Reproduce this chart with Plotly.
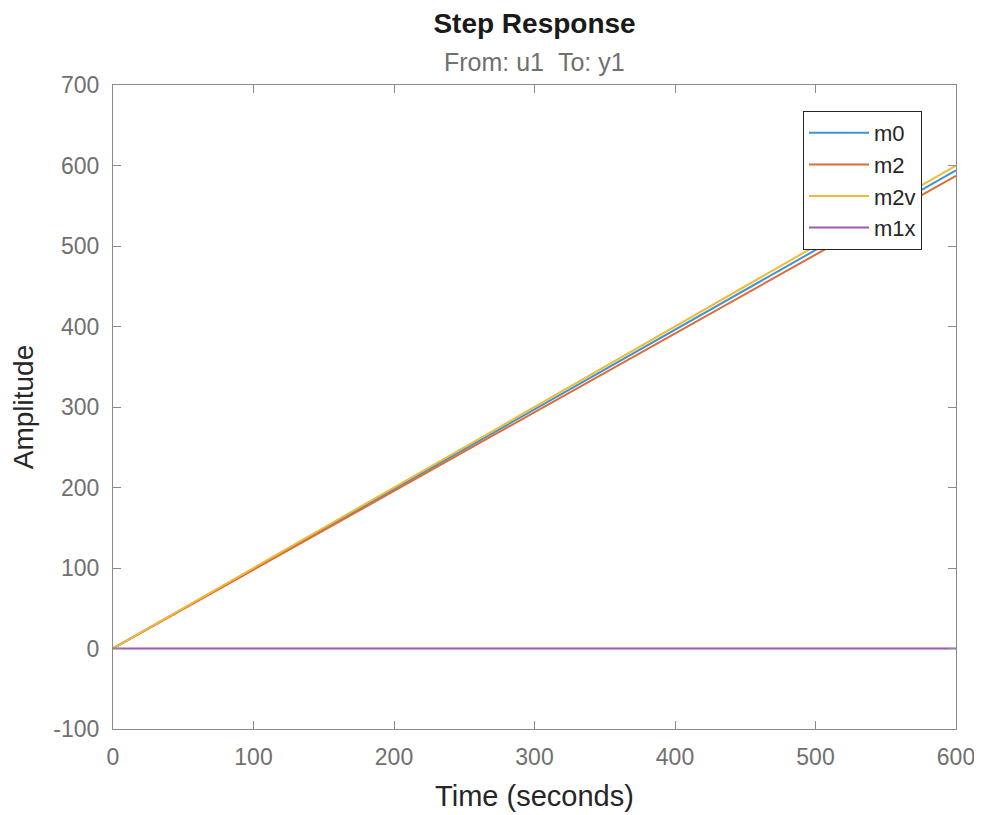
import plotly.graph_objects as go

time_s = [0, 100, 200, 300, 400, 500, 600]
m0 = [0, 99, 198, 297, 396, 495, 594]
m2 = [0, 97.8, 195.6, 293.4, 391.2, 489, 587]
m2v = [0, 100, 200, 300, 400, 500, 600]
m1x = [0, 0, 0, 0, 0, 0, 0]

series = [("m0", m0, "#3d94d6"), ("m2", m2, "#de6a35"), ("m2v", m2v, "#eebb33"), ("m1x", m1x, "#9a5bb0")]

x_ticks = [0, 100, 200, 300, 400, 500, 600]
y_ticks = [-100, 0, 100, 200, 300, 400, 500, 600, 700]

FONT = "Liberation Sans, Arial, Helvetica"

fig = go.Figure()
for name, vals, col in series:
    fig.add_trace(go.Scatter(x=time_s, y=vals, mode="lines", name=name,
                             line=dict(color=col, width=2)))

axis_common = dict(showgrid=False, zeroline=False, showline=True, linecolor="#8a8a8a", linewidth=1,
                   mirror="ticks", ticks="inside", ticklen=8, tickcolor="#8a8a8a", tickwidth=1,
                   automargin=False,
                   tickfont=dict(family=FONT, size=23, color="#707070"))

fig.update_layout(
    width=974, height=807,
    margin=dict(l=105, r=26, t=77, b=86),
    paper_bgcolor="white", plot_bgcolor="white",
    font=dict(family=FONT, color="#262626"),
    title=dict(text="<b>Step Response</b>", x=0.5406, xanchor="center", y=0.981, yanchor="middle",
               font=dict(size=28, color="#1a1a1a")),
    xaxis=dict(range=[0, 600], tickvals=x_ticks, ticktext=[str(v) for v in x_ticks],
               ticklabelstandoff=7,
               title=dict(text="Time (seconds)", font=dict(size=29, color="#262626"), standoff=17),
               **axis_common),
    yaxis=dict(range=[-100, 700], tickvals=y_ticks, ticktext=[str(v) for v in y_ticks],
               ticklabelstandoff=8,
               title=dict(text="Amplitude", font=dict(size=28, color="#262626"), standoff=12),
               **axis_common),
    legend=dict(x=0.8185, y=0.9596, xanchor="left", yanchor="top",
                bgcolor="white", bordercolor="#262626", borderwidth=1,
                itemwidth=60,
                font=dict(size=22, color="#262626"), tracegroupgap=0),
    showlegend=True,
)
fig.add_annotation(text="From: u1&nbsp;&nbsp;To: y1", xref="paper", yref="paper", x=0.5, y=1.0,
                   yshift=23, showarrow=False, xanchor="center", yanchor="middle",
                   font=dict(size=25, color="#707070"))

fig.write_html("out.html")
